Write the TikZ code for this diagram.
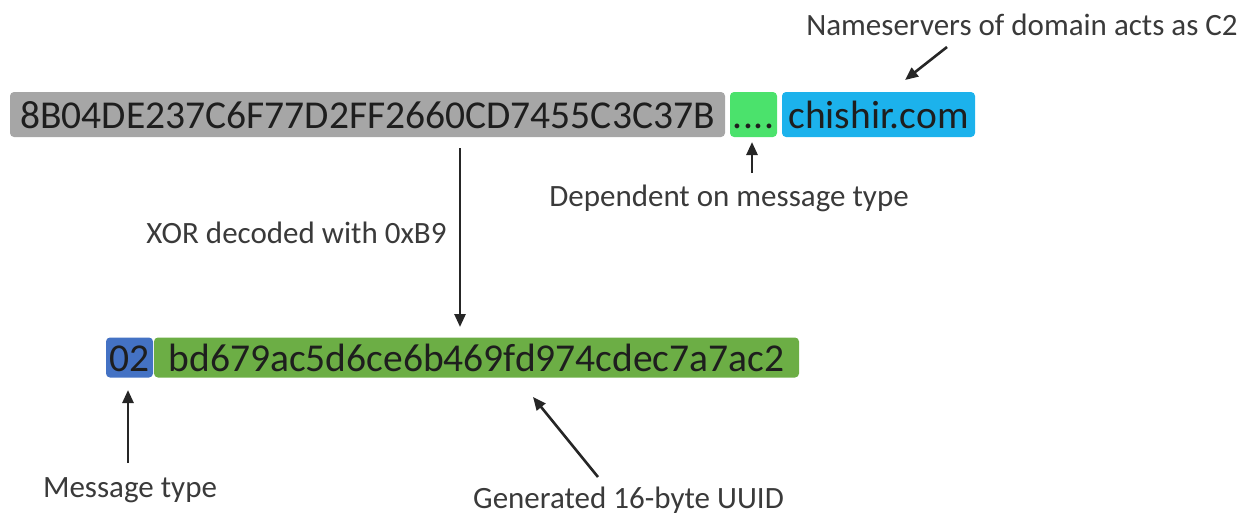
\documentclass[tikz,border=0pt]{standalone}
\usepackage{fontspec}
\setmainfont{Carlito}
\usetikzlibrary{arrows.meta}

\definecolor{hexgray}{HTML}{A6A6A6}
\definecolor{dotgreen}{HTML}{4BE26C}
\definecolor{domblue}{HTML}{1CB2EC}
\definecolor{typeblue}{HTML}{4472C4}
\definecolor{uuidgreen}{HTML}{6CAE45}
\definecolor{labelgray}{HTML}{3A3A3A}
\definecolor{inktext}{HTML}{1E1E1E}

\tikzset{
  field/.style={rounded corners=4pt, inner sep=0pt, text=inktext,
    font=\fontsize{39.5}{47}\selectfont, anchor=center},
  toprow/.style={field, minimum height=45pt, text height=33pt, text depth=6pt},
  botrow/.style={field, minimum height=40pt, text height=32pt, text depth=5pt},
  note/.style={text=labelgray, font=\fontsize{31}{37}\selectfont,
    inner sep=0pt, anchor=base},
  arr/.style={draw=black!85, line width=2.6pt,
    -{Triangle[length=13pt,width=11pt]}}
}

\begin{document}
\begin{tikzpicture}[x=1pt,y=-1pt]
\useasboundingbox (0,0) rectangle (1246,517);

% encoded subdomain label and domain
\node[toprow, fill=hexgray, minimum width=715pt] (hex) at (367.5,114.5)
  {8B04DE237C6F77D2FF2660CD7455C3C37B};
\node[toprow, fill=dotgreen, minimum width=47pt] (dots) at (753.5,114.5)
  {.\kern1pt.\kern1pt.\kern1pt.};
\node[toprow, fill=domblue, minimum width=193pt] (dom) at (878.5,114.5) {chishir.com};

% decoded payload
\node[botrow, fill=typeblue, minimum width=47pt] (mtype) at (129.5,357.5) {02};
\node[botrow, fill=uuidgreen, minimum width=645pt] (uuid) at (476.5,357.5)
  {bd679ac5d6ce6b469fd974cdec7a7ac2};

% annotations
\node[note] (ns) at (1022,35) {Nameservers of domain acts as C2};
\node[note] (dep) at (729,206) {Dependent on message type};
\node[note] (xor) at (296.5,243) {XOR decoded with 0xB9};
\node[note] (mt) at (130,497) {Message type};
\node[note] (gen) at (628.5,508) {Generated 16-byte UUID};

% arrow end points
\coordinate (nsTail) at (947,47);
\coordinate (nsTip) at (905,80);
\coordinate (depTail) at (752,173);
\coordinate (depTip) at (752,142);
\coordinate (xorTail) at (460,148);
\coordinate (xorTip) at (460,327);
\coordinate (mtTail) at (128,463);
\coordinate (mtTip) at (128,390);
\coordinate (genTail) at (598,477);
\coordinate (genTip) at (533,397);

\draw[arr] (nsTail) -- (nsTip);
\draw[arr] (depTail) -- (depTip);
\draw[arr] (xorTail) -- (xorTip);
\draw[arr] (mtTail) -- (mtTip);
\draw[arr] (genTail) -- (genTip);
\end{tikzpicture}
\end{document}
